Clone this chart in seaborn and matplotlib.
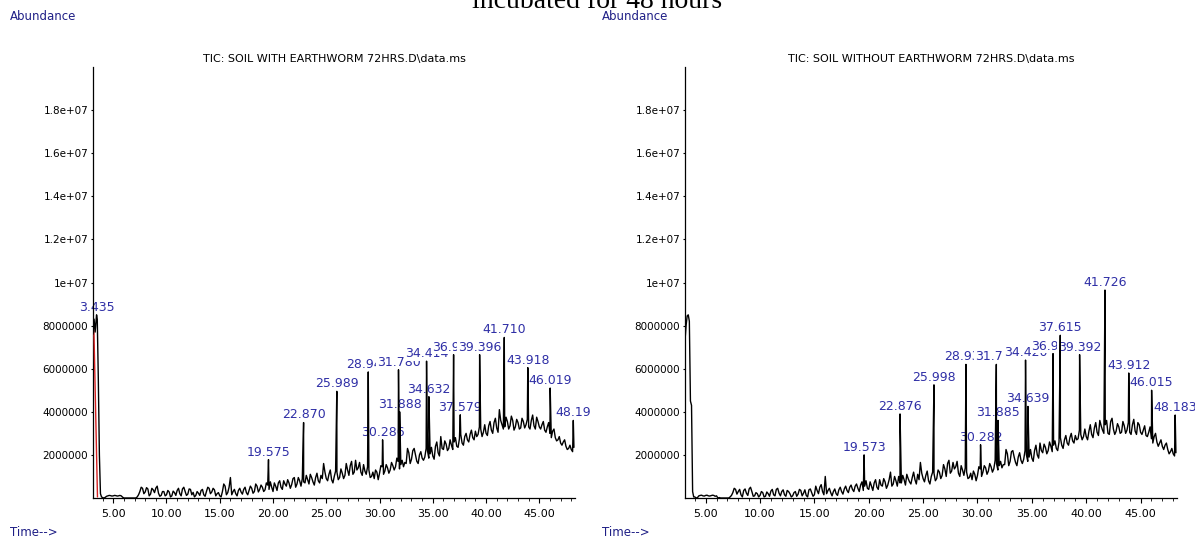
import numpy as np
import pandas as pd
import matplotlib
matplotlib.use("Agg")
import matplotlib.pyplot as plt
from matplotlib.ticker import MultipleLocator, FixedLocator
import seaborn as sns

# ---------------- data (abundance in units of 1e6 counts) ----------------
base_start = 4.0      # minutes, first baseline sample
base_step = 0.25      # minutes between baseline samples (half-step samples in *_half)

# --- left: soil with earthworm ---
left_title = "TIC: SOIL WITH EARTHWORM 72HRS.D\\data.ms"
left_solvent_time = [3.10, 3.20, 3.30, 3.50, 3.60, 3.70, 3.80, 3.90]
left_solvent_abund = [7.6, 8.3, 7.7, 8.3, 5.5, 2.0, 0.2, 0.05]
left_integration_time = [3.18, 3.52]
left_integration_abund = [7.9, 0.05]
left_baseline = [
    0.02, 0.03, 0.10, 0.11, 0.10, 0.11, 0.10, 0.10, 0.00, 0.00, 0.00, 0.00,
    0.00, 0.05, 0.30, 0.45, 0.28, 0.42, 0.18, 0.38, 0.46, 0.22, 0.12, 0.30,
    0.15, 0.28, 0.10, 0.25, 0.35, 0.20, 0.42, 0.30, 0.18, 0.40, 0.26, 0.12,
    0.22, 0.35, 0.15, 0.30, 0.45, 0.28, 0.38, 0.20, 0.10, 0.30, 0.55, 0.25,
    0.95, 0.30, 0.20, 0.35, 0.28, 0.40, 0.25, 0.35, 0.45, 0.30, 0.55, 0.40,
    0.50, 0.38, 0.60, 0.75, 0.30, 0.55, 0.70, 0.50, 0.80, 0.55, 0.70, 0.62,
    0.95, 0.65, 0.80, 0.90, 0.70, 0.85, 1.10, 0.75, 0.95, 0.80, 1.05, 1.60,
    0.90, 1.10, 0.85, 1.00, 1.20, 0.95, 1.15, 1.05, 1.30, 1.50, 1.10, 1.75,
    1.40, 1.20, 1.55, 1.10, 1.30, 1.00, 0.90, 1.20, 1.15, 1.45, 1.25, 1.40,
    1.30, 1.50, 1.45, 1.70, 1.55, 1.45, 1.60, 2.10, 1.80, 2.30, 1.70, 2.00,
    1.85, 1.90, 2.20, 2.05, 1.95, 2.40, 2.10, 2.85, 2.25, 2.50, 2.30, 2.45,
    2.60, 2.40, 2.75, 2.55, 2.85, 2.70, 2.95, 2.80, 3.10, 2.95, 3.20, 3.05,
    3.00, 3.35, 3.15, 3.50, 3.25, 4.10, 3.40, 3.30, 3.55, 3.35, 3.60, 3.30,
    3.50, 3.25, 3.55, 3.40, 3.30, 3.60, 3.35, 3.75, 3.30, 3.40, 3.15, 3.30,
    3.00, 3.10, 2.80, 2.70, 2.55, 2.60, 2.40, 2.30, 2.25, 2.35,
]
left_half = [
    0.00, 0.08, 0.12, 0.09, 0.12, 0.09, 0.12, 0.04, 0.00, 0.00, 0.00, 0.00,
    0.00, 0.15, 0.50, 0.20, 0.48, 0.10, 0.45, 0.25, 0.55, 0.08, 0.30, 0.10,
    0.35, 0.05, 0.32, 0.12, 0.45, 0.10, 0.50, 0.12, 0.42, 0.15, 0.05, 0.30,
    0.12, 0.40, 0.08, 0.50, 0.20, 0.45, 0.10, 0.25, 0.05, 0.65, 0.15, 0.50,
    0.15, 0.40, 0.10, 0.45, 0.18, 0.50, 0.15, 0.55, 0.22, 0.65, 0.28, 0.60,
    0.30, 0.70, 0.40, 0.50, 0.70, 0.35, 0.80, 0.40, 0.65, 0.85, 0.45, 0.90,
    0.50, 0.95, 0.55, 0.75, 1.05, 0.65, 0.95, 0.60, 1.15, 0.70, 0.90, 1.20,
    0.80, 1.30, 0.70, 1.25, 0.85, 1.35, 0.90, 1.60, 1.05, 1.70, 1.20, 1.30,
    1.65, 1.05, 1.25, 1.45, 0.95, 1.20, 1.30, 0.85, 1.50, 1.10, 1.55, 1.15,
    1.65, 1.30, 1.85, 1.35, 1.75, 1.65, 2.30, 1.60, 2.20, 2.00, 1.60, 2.15,
    1.75, 2.30, 1.85, 2.35, 1.80, 2.60, 1.95, 2.30, 2.65, 2.20, 2.70, 2.25,
    2.80, 2.35, 2.95, 2.45, 3.00, 2.60, 3.15, 2.70, 2.85, 3.30, 2.85, 3.40,
    2.90, 3.55, 3.00, 3.70, 3.05, 3.60, 3.20, 3.75, 3.20, 3.80, 3.15, 3.65,
    3.20, 3.70, 3.25, 3.65, 3.20, 3.85, 3.20, 3.55, 3.20, 3.55, 3.05, 3.50,
    2.80, 3.20, 2.65, 2.85, 2.45, 2.70, 2.25, 2.45, 2.15,
]
left_peak_time = [3.435, 19.575, 22.870, 25.989, 28.941, 30.286, 31.780, 31.888,
                  34.414, 34.632, 36.952, 37.579, 39.396, 41.710, 43.918, 46.019, 48.190]
left_peak_abund = [8.50, 1.78, 3.50, 4.95, 5.85, 2.70, 5.95, 4.00,
                   6.35, 4.70, 6.65, 3.86, 6.65, 7.45, 6.05, 5.10, 3.60]
left_peak_label = ["3.435", "19.575", "22.870", "25.989", "28.941", "30.286", "31.780", "31.888",
                   "34.414", "34.632", "36.952", "37.579", "39.396", "41.710", "43.918", "46.019", "48.19"]

# --- right: soil without earthworm ---
right_title = "TIC: SOIL WITHOUT EARTHWORM 72HRS.D\\data.ms"
right_solvent_time = [3.10, 3.20, 3.30, 3.40, 3.50, 3.60, 3.70, 3.80, 3.90]
right_solvent_abund = [7.3, 8.0, 8.45, 8.5, 8.2, 4.5, 4.3, 0.3, 0.05]
right_baseline = [
    0.05, 0.02, 0.12, 0.10, 0.12, 0.10, 0.11, 0.12, 0.10, 0.02, 0.00, 0.00,
    0.00, 0.05, 0.25, 0.40, 0.30, 0.15, 0.35, 0.22, 0.42, 0.30, 0.10, 0.20,
    0.12, 0.25, 0.08, 0.20, 0.32, 0.15, 0.40, 0.22, 0.30, 0.15, 0.35, 0.20,
    0.10, 0.30, 0.18, 0.35, 0.22, 0.12, 0.38, 0.25, 0.15, 0.35, 0.50, 0.30,
    1.00, 0.35, 0.25, 0.30, 0.20, 0.38, 0.30, 0.42, 0.35, 0.50, 0.40, 0.55,
    0.45, 0.60, 0.35, 0.80, 0.40, 0.55, 0.70, 0.50, 0.85, 0.55, 0.75, 0.60,
    1.20, 0.65, 0.80, 1.00, 0.70, 0.85, 1.10, 0.75, 0.95, 0.85, 1.10, 1.65,
    0.90, 1.05, 0.80, 1.00, 1.15, 0.90, 1.20, 1.05, 1.35, 1.60, 1.15, 1.65,
    1.45, 1.15, 1.50, 1.05, 1.20, 0.95, 0.85, 1.10, 1.05, 1.35, 1.20, 1.40,
    1.25, 1.45, 1.35, 1.60, 1.50, 1.40, 1.55, 2.05, 1.70, 2.20, 1.65, 1.90,
    1.75, 1.80, 2.00, 1.90, 1.85, 2.20, 2.00, 2.55, 2.10, 2.35, 2.20, 2.40,
    2.45, 2.30, 2.60, 2.45, 2.70, 2.55, 2.80, 2.65, 2.90, 2.75, 2.95, 2.85,
    2.85, 3.10, 2.95, 3.25, 3.05, 3.60, 3.15, 3.40, 3.00, 3.55, 3.20, 3.10,
    3.30, 3.05, 3.35, 3.15, 3.05, 3.40, 3.10, 3.50, 3.05, 3.15, 2.90, 3.05,
    2.75, 2.85, 2.60, 2.55, 2.40, 2.45, 2.25, 2.15, 2.05, 2.10,
]
right_half = [
    0.00, 0.10, 0.13, 0.09, 0.13, 0.09, 0.13, 0.08, 0.00, 0.00, 0.00, 0.00,
    0.00, 0.12, 0.45, 0.18, 0.40, 0.05, 0.42, 0.12, 0.50, 0.08, 0.25, 0.05,
    0.30, 0.05, 0.28, 0.08, 0.40, 0.10, 0.45, 0.10, 0.38, 0.08, 0.30, 0.05,
    0.25, 0.08, 0.40, 0.10, 0.38, 0.05, 0.42, 0.08, 0.55, 0.20, 0.62, 0.15,
    0.20, 0.45, 0.10, 0.42, 0.12, 0.50, 0.18, 0.55, 0.25, 0.60, 0.30, 0.65,
    0.30, 0.75, 0.55, 0.45, 0.75, 0.35, 0.85, 0.40, 0.60, 0.90, 0.45, 0.85,
    0.55, 1.00, 0.55, 0.70, 1.05, 0.60, 0.90, 0.65, 1.20, 0.65, 0.85, 1.15,
    0.75, 1.25, 0.65, 1.20, 0.80, 1.30, 0.90, 1.55, 1.00, 1.75, 1.25, 1.35,
    1.70, 1.00, 1.30, 1.40, 0.90, 1.15, 1.25, 0.80, 1.45, 1.00, 1.50, 1.10,
    1.60, 1.20, 1.75, 1.30, 1.70, 1.55, 2.25, 1.50, 2.15, 1.90, 1.50, 2.10,
    1.60, 2.20, 1.70, 2.25, 1.70, 2.45, 1.85, 2.20, 2.50, 2.05, 2.60, 2.15,
    2.65, 2.20, 2.80, 2.30, 2.90, 2.45, 3.00, 2.55, 2.70, 3.15, 2.70, 3.20,
    2.70, 3.40, 2.80, 3.50, 2.90, 3.35, 3.00, 3.60, 2.95, 3.70, 2.95, 3.45,
    3.00, 3.55, 3.00, 3.50, 2.95, 3.65, 2.95, 3.40, 2.95, 3.35, 2.85, 3.30,
    2.55, 3.00, 2.40, 2.70, 2.25, 2.55, 2.05, 2.30, 1.95,
]
right_peak_time = [19.573, 22.876, 25.998, 28.938, 30.282, 31.734, 31.885, 34.420,
                   34.639, 36.948, 37.615, 39.392, 41.726, 43.912, 46.015, 48.183]
right_peak_abund = [2.00, 3.90, 5.25, 6.20, 2.47, 6.20, 3.60, 6.40,
                    4.25, 6.70, 7.55, 6.65, 9.65, 5.80, 5.00, 3.85]
right_peak_label = ["19.573", "22.876", "25.998", "28.938", "30.282", "31.734", "31.885", "34.420",
                    "34.639", "36.948", "37.615", "39.392", "41.726", "43.912", "46.015", "48.183"]

x_ticks = [5, 10, 15, 20, 25, 30, 35, 40, 45]
x_tick_labels = ["5.00", "10.00", "15.00", "20.00", "25.00", "30.00", "35.00", "40.00", "45.00"]
y_ticks = [2e6, 4e6, 6e6, 8e6, 1e7, 1.2e7, 1.4e7, 1.6e7, 1.8e7]
y_tick_labels = ["2000000", "4000000", "6000000", "8000000", "1e+07",
                 "1.2e+07", "1.4e+07", "1.6e+07", "1.8e+07"]

# ---------------- styling ----------------
sns.set_theme(style="white")
plt.rcParams["font.family"] = ["DejaVu Sans"]

W, H = 1195, 539
fig = plt.figure(figsize=(W / 100, H / 100), dpi=100)

NAVY = "#1f1f86"
LABEL_BLUE = "#2f2fa6"


def build_trace(sol_t, sol_a, base, half, pk_t, pk_a):
    bt = base_start + base_step * np.arange(len(base))
    ht = base_start + base_step / 2 + base_step * np.arange(len(half))
    t = np.concatenate([sol_t, bt, ht, pk_t])
    a = np.concatenate([sol_a, base, half, pk_a])
    order = np.argsort(t, kind="stable")
    return pd.DataFrame({"time": t[order], "abund": a[order] * 1e6})


def panel(rect, title, sol_t, sol_a, base, half, pk_t, pk_a, pk_lab, ax_left_px,
          integ_t=None, integ_a=None):
    ax = fig.add_axes(rect)
    df = build_trace(sol_t, sol_a, base, half, pk_t, pk_a)
    if integ_t is not None:
        idf = pd.DataFrame({"time": integ_t, "abund": np.asarray(integ_a) * 1e6})
        sns.lineplot(data=idf, x="time", y="abund", ax=ax, color="#d42020",
                     linewidth=1.0, estimator=None, sort=False, zorder=2.9)
    sns.lineplot(data=df, x="time", y="abund", ax=ax, color="black",
                 linewidth=1.0, estimator=None, sort=False, zorder=3)
    ax.set_xlim(3.1, 48.35)
    ax.set_ylim(0, 2.0e7)
    ax.set_xlabel("")
    ax.set_ylabel("")
    for s in ("top", "right"):
        ax.spines[s].set_visible(False)
    for s in ("left", "bottom"):
        ax.spines[s].set_color("black")
        ax.spines[s].set_linewidth(0.9)
    ax.xaxis.set_major_locator(FixedLocator(x_ticks))
    ax.set_xticklabels(x_tick_labels)
    ax.xaxis.set_minor_locator(MultipleLocator(1))
    ax.yaxis.set_major_locator(FixedLocator(y_ticks))
    ax.set_yticklabels(y_tick_labels)
    ax.tick_params(axis="x", which="major", direction="out", length=3.5, width=0.8,
                   pad=4.5, labelsize=8, colors="black", bottom=True)
    ax.tick_params(axis="x", which="minor", direction="out", length=2.5, width=0.7,
                   bottom=True)
    ax.tick_params(axis="y", which="major", direction="out", length=1.5, width=0.8,
                   pad=2, labelsize=7.5, colors="black", left=True)
    ax.set_title(title, fontsize=8, pad=3.5, color="black")
    for i, (t, a, lab) in enumerate(zip(pk_t, pk_a, pk_lab)):
        ax.annotate(lab, (t, a * 1e6), xytext=(0, 0.8), textcoords="offset points",
                    ha="center", va="bottom", fontsize=9, color=LABEL_BLUE,
                    bbox=dict(boxstyle="square,pad=0.05", fc="white", ec="none"),
                    zorder=2 + i * 0.01, annotation_clip=False)
    fig.text((ax_left_px - 83) / W, 1 - 16 / H, "Abundance", color=NAVY,
             fontsize=8.5, ha="left", va="center")
    fig.text((ax_left_px - 83) / W, 1 - 533 / H, "Time-->", color=NAVY,
             fontsize=8.5, ha="left", va="center")
    return ax


y0 = (H - 498) / H
hh = (498 - 67) / H
panel([93 / W, y0, (575 - 93) / W, hh], left_title, left_solvent_time, left_solvent_abund,
      left_baseline, left_half, left_peak_time, left_peak_abund, left_peak_label, 93,
      left_integration_time, left_integration_abund)
panel([685 / W, y0, (1177 - 685) / W, hh], right_title, right_solvent_time, right_solvent_abund,
      right_baseline, right_half, right_peak_time, right_peak_abund, right_peak_label, 685)

fig.text(597 / W, 1 - 8 / H, "incubated for 48 hours", family="Liberation Serif",
         fontsize=20, ha="center", va="baseline", color="black")

fig.savefig("out.png", dpi=100)
